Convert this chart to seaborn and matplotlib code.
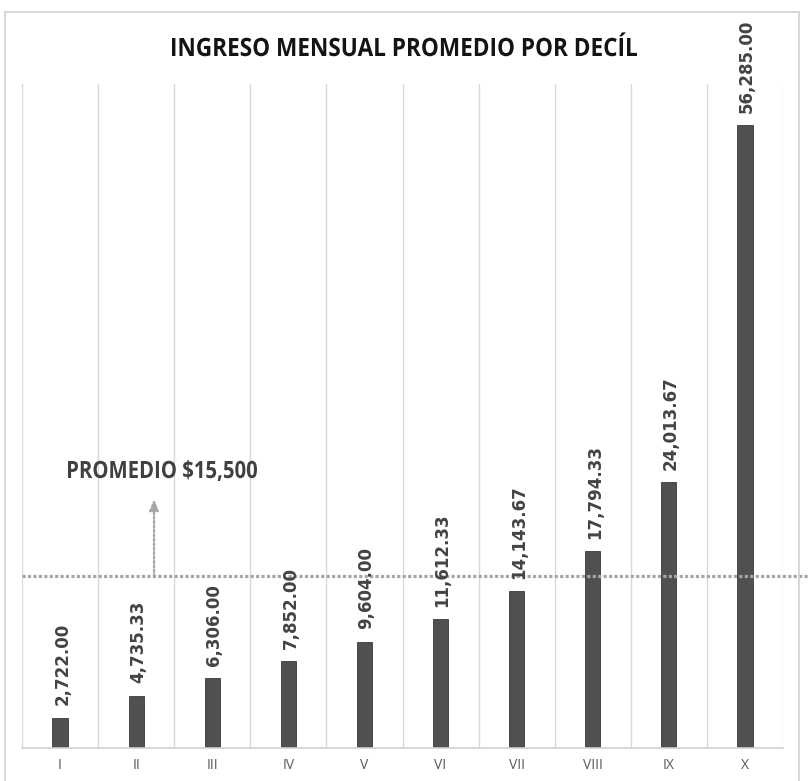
import matplotlib
matplotlib.use("Agg")
import matplotlib.pyplot as plt
import seaborn as sns
import pandas as pd
from matplotlib.patches import Rectangle, PathPatch
from matplotlib.textpath import TextPath
from matplotlib.font_manager import FontProperties
from matplotlib.transforms import Affine2D, IdentityTransform

deciles = ["I", "II", "III", "IV", "V", "VI", "VII", "VIII", "IX", "X"]
ingreso = [2722.00, 4735.33, 6306.00, 7852.00, 9604.00, 11612.33, 14143.67, 17794.33, 24013.67, 56285.00]
promedio = 15500
title_text = "INGRESO MENSUAL PROMEDIO POR DECÍL"
promedio_text = "PROMEDIO $15,500"

sns.set_theme(style="white")
plt.rcParams['font.family'] = ['DejaVu Sans']

W, H = 809, 781
fig = plt.figure(figsize=(W / 100, H / 100), dpi=100)
fig.patch.set_facecolor("white")


def px(x0, y0, x1, y1):
    return [x0 / W, 1 - y1 / H, (x1 - x0) / W, (y1 - y0) / H]


def condensed_text(s, x0, x1, y_top, y_base, family, weight, color):
    """Draw text as a path, fitted horizontally to [x0, x1] and with cap
    height from y_top to y_base (pixel coordinates, origin top-left)."""
    fp = FontProperties(family=family, weight=weight)
    tp = TextPath((0, 0), s, size=100, prop=fp)
    ext = tp.get_extents()
    cap = TextPath((0, 0), "H", size=100, prop=fp).get_extents()
    sx = (x1 - x0) / ext.width
    sy = (y_base - y_top) / cap.height
    tr = Affine2D().translate(-ext.x0, 0).scale(sx, sy).translate(x0, H - y_base)
    patch = PathPatch(tr.transform_path(tp), transform=IdentityTransform(),
                      facecolor=color, edgecolor="none")
    fig.add_artist(patch)


ax = fig.add_axes(px(22, 84, 783, 748))

df = pd.DataFrame({"decil": deciles, "ingreso": ingreso})
sns.barplot(data=df, x="decil", y="ingreso", color="#505050", saturation=1,
            width=0.2, ax=ax, edgecolor="#3a3a3a", linewidth=0.6)

ax.set_ylim(0, 60000)
ax.set_xlim(-0.5, len(deciles) - 0.5)
ax.set_xlabel("")
ax.set_ylabel("")
ax.set_yticks([])
for s in ["top", "left", "right"]:
    ax.spines[s].set_visible(False)
ax.spines["bottom"].set_color("#d0d0d0")
ax.spines["bottom"].set_linewidth(1.2)

# vertical category separators
for b in range(len(deciles) + 1):
    ax.axvline(b - 0.5, color="#d9d9d9", lw=1.0, zorder=0)

ax.tick_params(axis="x", length=0, pad=7, labelsize=10, colors="#595959")
for lbl in ax.get_xticklabels():
    lbl.set_family("Open Sans")

# value labels
for i, v in enumerate(ingreso):
    ax.annotate(f"{v:,.2f}", xy=(i, v), xytext=(1.5, 9), textcoords="offset points",
                rotation=90, ha="center", va="bottom", fontsize=12,
                fontweight="bold", color="#434343", annotation_clip=False)

# average line
ax.axhline(promedio, xmin=0, xmax=(809 - 22) / (783 - 22), color="#a6a6a6",
           lw=2.3, linestyle=(0, (1, 0.7)), clip_on=False, zorder=1)

# arrow
ax.annotate("", xy=(1.235, promedio + 7000), xytext=(1.235, promedio),
            arrowprops=dict(arrowstyle="-|>,head_length=0.55,head_width=0.22",
                            color="#a6a6a6", lw=1.6, linestyle=(0, (1, 1)),
                            shrinkA=0, shrinkB=0))

# text labels (condensed bold)
condensed_text(promedio_text, 68, 257, 461, 478, "Open Sans", "bold", "#404040")
condensed_text(title_text, 172, 637, 38, 56, "Open Sans", "bold", "#141414")

# chart border
fig.patches.append(Rectangle((5 / W, -0.05), (799 - 5) / W, 1.05 - 12 / H,
                             transform=fig.transFigure, fill=False,
                             edgecolor="#d0d0d0", lw=1.2))

fig.savefig("out.png", dpi=100, facecolor="white")
